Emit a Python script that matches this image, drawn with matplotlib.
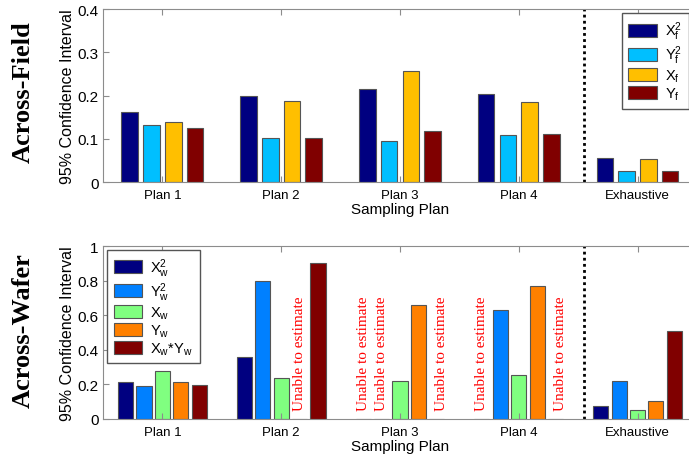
import matplotlib
matplotlib.use('Agg')
import matplotlib.pyplot as plt
import numpy as np

plt.rcParams['font.family'] = ['Liberation Sans', 'DejaVu Sans']
plt.rcParams['mathtext.fontset'] = 'custom'
plt.rcParams['mathtext.rm'] = 'Liberation Sans'
plt.rcParams['mathtext.it'] = 'Liberation Sans:italic'

plans = ['Plan 1', 'Plan 2', 'Plan 3', 'Plan 4', 'Exhaustive']

# across-field 95% CI
field_labels = [r'$\mathregular{X_f^2}$', r'$\mathregular{Y_f^2}$', r'$\mathregular{X_f}$', r'$\mathregular{Y_f}$']
field_X2 = [0.161, 0.200, 0.215, 0.203, 0.056]
field_Y2 = [0.133, 0.102, 0.094, 0.109, 0.025]
field_X = [0.138, 0.188, 0.256, 0.186, 0.053]
field_Y = [0.126, 0.103, 0.117, 0.112, 0.026]
field_colors = ['#000080', '#00BFFF', '#FFBF00', '#800000']

# across-wafer 95% CI (nan = unable to estimate)
wafer_labels = [r'$\mathregular{X_w^2}$', r'$\mathregular{Y_w^2}$', r'$\mathregular{X_w}$',
                r'$\mathregular{Y_w}$', r'$\mathregular{X_w}$*$\mathregular{Y_w}$']
wafer_X2 = [0.212, 0.357, np.nan, np.nan, 0.077]
wafer_Y2 = [0.193, 0.797, np.nan, 0.633, 0.222]
wafer_X = [0.280, 0.237, 0.218, 0.257, 0.052]
wafer_Y = [0.212, np.nan, 0.662, 0.768, 0.102]
wafer_XY = [0.197, 0.903, np.nan, np.nan, 0.511]
wafer_colors = ['#000080', '#0080FF', '#80FF80', '#FF8000', '#800000']

no_estimate = 'Unable to estimate'
spine_col = '#8c8c8c'


def style_axes(ax, ymax, yticks, yticklabels):
    ax.set_xlim(0.5, 5.5)
    ax.set_ylim(0, ymax)
    ax.set_xticks(range(1, 6))
    ax.set_xticklabels(plans, fontsize=9.5)
    ax.set_yticks(yticks)
    ax.set_yticklabels(yticklabels, fontsize=11)
    ax.tick_params(direction='in', length=4, top=True, right=True, color=spine_col, pad=3)
    ax.tick_params(axis='x', pad=5)
    for s in ax.spines.values():
        s.set_color(spine_col)
    ax.set_xlabel('Sampling Plan', fontsize=11, labelpad=1)
    ax.set_ylabel('95% Confidence Interval', fontsize=11.5, labelpad=2)
    ax.axvline(4.55, color='k', linestyle=(0, (1, 1.2)), linewidth=2)


def grouped_bars(ax, series, colors, labels, step, width):
    x = np.arange(1, 6)
    n = len(series)
    for i, vals in enumerate(series):
        pos = x + (i - (n - 1) / 2) * step
        ax.bar(pos, np.nan_to_num(np.array(vals, dtype=float)), width, color=colors[i],
               edgecolor='#555555', linewidth=0.8, label=labels[i])
        for p, v in zip(pos, vals):
            if np.isnan(v):
                shift = 0.04 if i == n - 1 else 0.0
                ax.text(p + shift, 0.05, no_estimate, rotation=90, color='red',
                        family='Liberation Serif', fontsize=11, ha='center', va='bottom')


def add_legend(ax, anchor, textpad):
    leg = ax.legend(loc='upper left', bbox_to_anchor=anchor, borderaxespad=0, fontsize=10.5,
                    handlelength=1.95, handleheight=1.0, labelspacing=0.1, borderpad=0.45,
                    fancybox=False, edgecolor='#555555', framealpha=1, handletextpad=textpad)
    leg.set_clip_on(False)
    return leg


fig = plt.figure(figsize=(6.89, 4.6), dpi=100)

ax1 = fig.add_axes([0.1495, 0.602, 0.862, 0.376])
grouped_bars(ax1, [field_X2, field_Y2, field_X, field_Y], field_colors, field_labels, 0.183, 0.14)
style_axes(ax1, 0.4, [0, 0.1, 0.2, 0.3, 0.4], ['0', '0.1', '0.2', '0.3', '0.4'])
add_legend(ax1, (0.8737, 0.977), 0.55)

ax2 = fig.add_axes([0.1495, 0.087, 0.862, 0.3755])
grouped_bars(ax2, [wafer_X2, wafer_Y2, wafer_X, wafer_Y, wafer_XY], wafer_colors, wafer_labels, 0.155, 0.127)
style_axes(ax2, 1.0, [0, 0.2, 0.4, 0.6, 0.8, 1.0], ['0', '0.2', '0.4', '0.6', '0.8', '1'])
add_legend(ax2, (0.0072, 0.98), 0.55)

fig.text(0.034, 0.80, 'Across-Field', rotation=90, ha='center', va='center',
         family='Liberation Serif', weight='bold', fontsize=19)
fig.text(0.034, 0.282, 'Across-Wafer', rotation=90, ha='center', va='center',
         family='Liberation Serif', weight='bold', fontsize=19)

plt.savefig('out.png', dpi=100)
